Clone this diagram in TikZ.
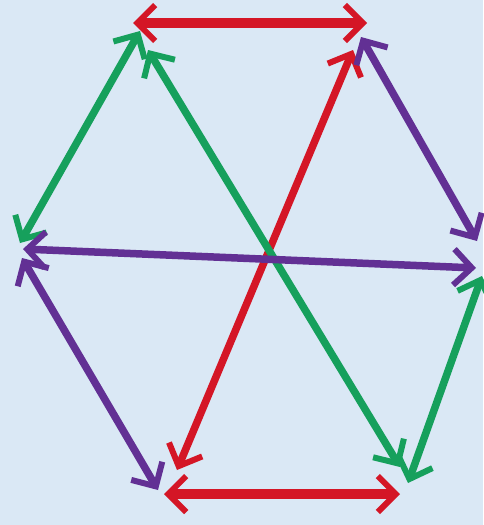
\documentclass[tikz,border=0pt]{standalone}
\usetikzlibrary{arrows.meta}
\definecolor{bg}{RGB}{218,232,245}
\definecolor{myred}{RGB}{212,22,38}
\definecolor{mygreen}{RGB}{22,160,92}
\definecolor{mypurple}{RGB}{98,48,148}
\tikzset{
  link/.style={line width=7.5pt, {Straight Barb[length=18pt,width=36pt,line width=6pt]}-{Straight Barb[length=18pt,width=36pt,line width=6pt]}},
  thick link/.style={link, line width=10pt},
}
\begin{document}
\begin{tikzpicture}[x=1pt,y=-1pt]
\fill[bg] (0,0) rectangle (483,525);
\useasboundingbox (0,0) rectangle (483,525);
% endpoints
\coordinate (tlA) at (133,23);
\coordinate (trA) at (367,23);
\coordinate (tlB) at (140,31);
\coordinate (tlC) at (148,50);
\coordinate (trB) at (353,50);
\coordinate (trC) at (361,37);
\coordinate (lA) at (20,243);
\coordinate (lB) at (23,249);
\coordinate (lC) at (22,258);
\coordinate (rA) at (477,241);
\coordinate (rB) at (476,268);
\coordinate (rC) at (482,276);
\coordinate (blA) at (158,490);
\coordinate (blB) at (164,494);
\coordinate (blC) at (177,470);
\coordinate (brA) at (400,494);
\coordinate (brB) at (400,467);
\coordinate (brC) at (408,483);
% red
\draw[thick link, myred] (tlA) -- (trA);
\draw[thick link, myred] (blB) -- (brA);
\draw[link, myred] (trB) -- (blC);
% green
\draw[link, mygreen] (tlB) -- (lA);
\draw[link, mygreen] (tlC) -- (brB);
\draw[link, mygreen] (rC) -- (brC);
% purple
\draw[link, mypurple] (trC) -- (rA);
\draw[link, mypurple] (lB) -- (rB);
\draw[link, mypurple] (lC) -- (blA);
\end{tikzpicture}
\end{document}
